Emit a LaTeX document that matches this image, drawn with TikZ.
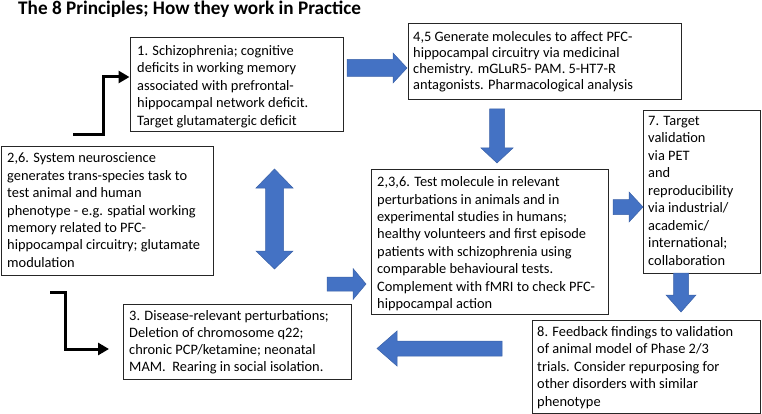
\documentclass[tikz,border=0pt]{standalone}
\usepackage{fontspec}
\setmainfont{Carlito}
\usetikzlibrary{arrows.meta}
\definecolor{arrowblue}{HTML}{4472C4}
\tikzset{
  box/.style={draw=black!85, line width=0.9pt, inner sep=0, anchor=north west},
  txt/.style={inner sep=0, anchor=north west, align=left, font=\fontsize{14.4}{17.4}\selectfont},
  barrow/.style={fill=arrowblue, draw=arrowblue!85!black, line width=0.5pt},
  elbow/.style={line width=3pt, -{Triangle[length=11pt,width=12pt]}}
}
\newcommand{\fl}{\rule{0pt}{12pt}}
\begin{document}
\begin{tikzpicture}[x=1pt,y=-1pt]
\useasboundingbox (0,0) rectangle (762,414);
\node[anchor=base west, inner sep=0, font=\bfseries\fontsize{19.2}{22}\selectfont] (title) at (18,15) {The 8 Principles; How they work in Practice};

% boxes
\node[box, minimum width=213pt, minimum height=94pt] (b1) at (130,37) {};
\node[txt] (t1) at (137,43.3) {\fl 1. Schizophrenia; cognitive\\deficits in working memory\\associated with prefrontal-\\hippocampal network deficit.\\Target glutamatergic deficit};

\node[box, minimum width=273pt, minimum height=76pt] (b45) at (408,23) {};
\node[txt, font=\fontsize{14.4}{15.8}\selectfont] (t45) at (413,29.7) {\fl 4,5 Generate molecules to affect PFC-\\hippocampal circuitry via medicinal\\chemistry. mGLuR5- PAM. 5-HT7-R\\antagonists. Pharmacological analysis};

\node[box, minimum width=212pt, minimum height=129pt] (b26) at (1,146) {};
\node[txt] (t26) at (7,150.7) {\fl 2,6. System neuroscience\\generates trans-species task to\\test animal and human\\phenotype - e.g. spatial working\\memory related to PFC-\\hippocampal circuitry; glutamate\\modulation};

\node[box, minimum width=237pt, minimum height=145pt] (b236) at (371,169) {};
\node[txt] (t236) at (377,174.5) {\fl 2,3,6. Test molecule in relevant\\perturbations in animals and in\\experimental studies in humans;\\healthy volunteers and first episode\\patients with schizophrenia using\\comparable behavioural tests.\\Complement with fMRI to check PFC-\\hippocampal action};

\node[box, minimum width=117pt, minimum height=163pt] (b7) at (643,110) {};
\node[txt, font=\fontsize{14.4}{17.5}\selectfont] (t7) at (648,113) {\fl 7. Target\\validation\\via PET\\and\\reproducibility\\via industrial/\\academic/\\international;\\collaboration};

\node[box, minimum width=228pt, minimum height=75pt] (b3) at (123,304) {};
\node[txt, font=\fontsize{14.4}{17}\selectfont] (t3) at (129,308.7) {\fl 3. Disease-relevant perturbations;\\Deletion of chromosome q22;\\chronic PCP/ketamine; neonatal\\MAM.\ \ Rearing in social isolation.};

\node[box, minimum width=228pt, minimum height=92.5pt] (b8) at (532,320) {};
\node[txt, font=\fontsize{14.4}{17.5}\selectfont] (t8) at (537,324) {\fl 8. Feedback findings to validation\\of animal model of Phase 2/3\\trials. Consider repurposing for\\other disorders with similar\\phenotype};

% black elbow arrows
\coordinate (e1s) at (73,135);
\coordinate (e1e) at (129.5,77);
\draw[elbow] (e1s) -| (103,77) -- (e1e);
\coordinate (e2s) at (50,292);
\coordinate (e2e) at (109,349);
\draw[elbow] (e2s) -| (65,349) -- (e2e);

% blue block arrows
\draw[barrow] (347,59.5)--(393,59.5)--(393,53)--(407,68)--(393,83)--(393,76.5)--(347,76.5)--cycle;
\draw[barrow] (489.5,109)--(504.5,109)--(504.5,148)--(513,148)--(497,163)--(481,148)--(489.5,148)--cycle;
\draw[barrow] (274.5,169)--(293,188)--(283.5,188)--(283.5,251)--(293,251)--(274.5,269)--(256,251)--(265.5,251)--(265.5,188)--(256,188)--cycle;
\draw[barrow] (327,277)--(353,277)--(353,268.5)--(366,284)--(353,299.5)--(353,291)--(327,291)--cycle;
\draw[barrow] (613,199.5)--(629,199.5)--(629,192)--(643,207)--(629,222)--(629,214.5)--(613,214.5)--cycle;
\draw[barrow] (673.5,273)--(688.5,273)--(688.5,295)--(696,295)--(681,312)--(666,295)--(673.5,295)--cycle;
\draw[barrow] (502,341)--(397,341)--(397,331)--(377,348.5)--(397,366)--(397,356)--(502,356)--cycle;
\end{tikzpicture}
\end{document}
